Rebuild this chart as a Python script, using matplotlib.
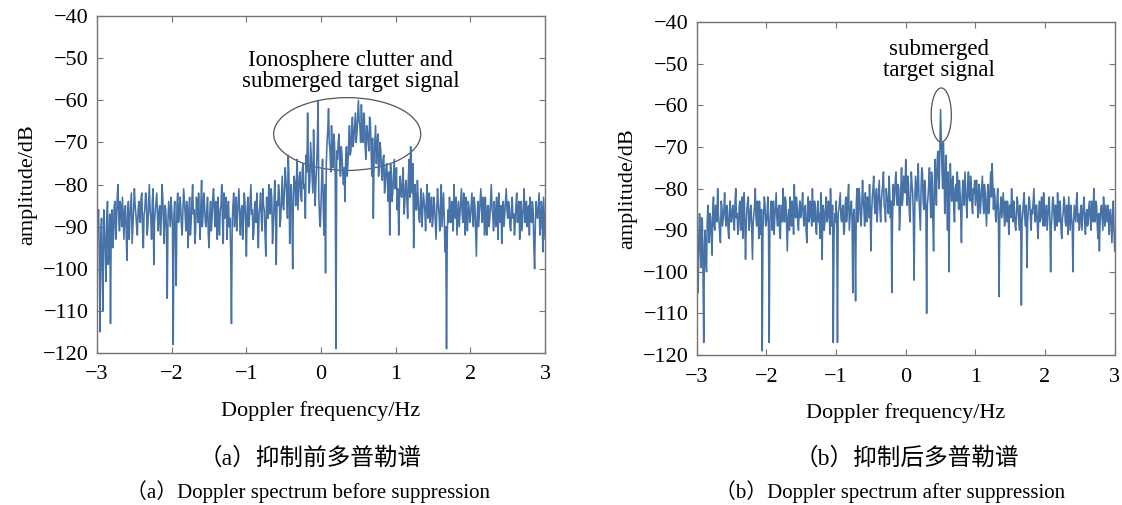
import numpy as np
import matplotlib
matplotlib.use('Agg')
import matplotlib.pyplot as plt
from matplotlib.patches import Ellipse

# spectrum values (dB), one per Doppler bin from -3 Hz to 3 Hz in 0.01 Hz steps
# (each row covers 0.5 Hz)
amp_before = [
    -93, -89, -86, -97, -115, -92, -88, -101, -110, -86, -90, -96, -103, -88, -84, -99, -95, -87, -113, -90, -86, -95, -92, -85, -84,
    -93, -89, -83, -80, -87, -91, -84, -86, -90, -83, -88, -93, -86, -85, -91, -98, -87, -84, -93, -88, -85, -82, -94, -90, -86,
    -81, -85, -87, -90, -92, -86, -84, -88, -89, -83, -82, -91, -95, -87, -86, -82, -83, -92, -90, -85, -80, -86, -88, -93, -84,
    -81, -99, -89, -86, -84, -82, -88, -91, -86, -85, -92, -88, -80, -83, -89, -94, -85, -86, -91, -107, -88, -84, -87, -90, -83,
    -86, -90, -118, -87, -84, -93, -104, -85, -82, -89, -88, -83, -85, -90, -92, -86, -81, -84, -87, -91, -84, -88, -95, -86, -83,
    -92, -89, -84, -80, -87, -86, -94, -91, -83, -84, -89, -82, -88, -93, -85, -79, -90, -87, -82, -85, -89, -90, -86, -83, -92,
    -95, -87, -84, -91, -88, -83, -81, -86, -90, -84, -86, -93, -83, -89, -92, -86, -85, -80, -89, -94, -82, -88, -87, -83, -93,
    -87, -84, -90, -88, -96, -113, -89, -85, -82, -90, -86, -83, -91, -87, -84, -81, -88, -92, -86, -85, -93, -89, -82, -84, -89,
    -97, -86, -83, -90, -88, -84, -80, -87, -86, -93, -91, -85, -84, -89, -82, -88, -95, -87, -85, -82, -88, -91, -81, -85, -86,
    -92, -97, -83, -84, -88, -80, -86, -87, -81, -83, -94, -90, -85, -79, -87, -99, -84, -85, -80, -82, -90, -88, -83, -78, -85,
    -86, -81, -76, -79, -83, -88, -73, -78, -94, -84, -80, -87, -100, -82, -78, -80, -85, -79, -74, -86, -82, -78, -77, -83, -84,
    -76, -75, -81, -80, -88, -73, -77, -63, -75, -82, -79, -70, -74, -78, -82, -67, -77, -85, -80, -76, -70, -60, -83, -88, -90,
    -84, -78, -74, -86, -92, -80, -101, -75, -70, -67, -62, -70, -72, -77, -66, -73, -76, -68, -70, -79, -119, -72, -74, -70, -68,
    -75, -78, -71, -73, -77, -80, -76, -84, -74, -71, -78, -75, -70, -66, -73, -72, -67, -64, -71, -69, -66, -63, -70, -68, -64,
    -60, -65, -66, -70, -61, -68, -70, -63, -64, -71, -74, -66, -67, -70, -72, -64, -65, -72, -78, -69, -88, -74, -70, -66, -75,
    -71, -68, -78, -76, -70, -72, -77, -79, -74, -73, -82, -80, -76, -75, -80, -84, -77, -92, -75, -77, -84, -82, -78, -74, -81,
    -80, -76, -86, -81, -92, -84, -78, -82, -83, -79, -76, -87, -85, -80, -79, -84, -88, -78, -74, -83, -71, -77, -82, -75, -95,
    -84, -80, -86, -86, -79, -83, -88, -89, -84, -81, -90, -87, -82, -84, -86, -91, -84, -80, -88, -86, -82, -89, -85, -83, -90,
    -88, -83, -85, -89, -93, -86, -81, -85, -87, -91, -84, -80, -90, -86, -82, -88, -96, -90, -119, -92, -86, -89, -83, -87, -89,
    -84, -85, -91, -80, -86, -88, -83, -92, -88, -84, -90, -87, -84, -81, -87, -89, -82, -86, -92, -83, -88, -91, -84, -85, -89,
    -88, -85, -82, -87, -90, -83, -85, -91, -97, -88, -84, -90, -87, -84, -81, -86, -89, -83, -86, -92, -83, -88, -92, -85, -85,
    -90, -88, -84, -80, -86, -87, -91, -84, -88, -90, -83, -86, -93, -82, -87, -89, -85, -94, -88, -84, -90, -87, -84, -81, -86,
    -88, -84, -85, -90, -91, -86, -83, -88, -87, -92, -89, -85, -82, -89, -86, -84, -93, -88, -84, -91, -88, -85, -81, -89, -87,
    -84, -90, -86, -85, -92, -83, -88, -89, -84, -86, -95, -100, -89, -84, -87, -88, -85, -82, -92, -90, -84, -86, -96, -83, -88,
    -93,
]

amp_after = [
    -95, -98, -105, -92, -86, -94, -99, -87, -88, -101, -117, -93, -90, -97, -100, -88, -84, -90, -93, -86, -87, -92, -96, -85, -82,
    -89, -90, -84, -85, -88, -80, -86, -88, -91, -93, -83, -84, -89, -87, -85, -81, -87, -89, -84, -85, -90, -92, -86, -83, -88,
    -88, -85, -84, -88, -90, -83, -80, -87, -86, -91, -89, -84, -83, -90, -87, -82, -92, -86, -81, -88, -97, -89, -85, -83, -82,
    -90, -88, -85, -84, -91, -97, -88, -86, -84, -80, -87, -89, -83, -85, -92, -83, -88, -91, -85, -119, -90, -86, -82, -84, -89,
    -88, -86, -82, -90, -117, -88, -85, -83, -90, -86, -83, -91, -87, -84, -81, -87, -89, -85, -84, -90, -92, -84, -86, -88, -80,
    -86, -88, -82, -83, -89, -95, -87, -85, -90, -82, -85, -89, -83, -86, -91, -79, -86, -87, -82, -84, -88, -90, -85, -83, -87,
    -86, -84, -81, -87, -89, -85, -84, -90, -93, -86, -82, -88, -87, -83, -85, -89, -80, -86, -88, -83, -84, -90, -91, -85, -83,
    -88, -86, -92, -81, -87, -97, -84, -85, -90, -88, -84, -82, -88, -87, -83, -84, -91, -80, -86, -89, -84, -117, -92, -86, -88,
    -83, -89, -117, -86, -85, -83, -81, -87, -88, -85, -84, -91, -90, -84, -82, -88, -86, -82, -79, -90, -87, -84, -83, -88, -105,
    -86, -85, -92, -107, -84, -80, -88, -86, -80, -82, -87, -89, -84, -78, -83, -85, -89, -81, -86, -88, -82, -84, -87, -79, -85,
    -95, -86, -82, -80, -77, -84, -86, -82, -80, -88, -84, -81, -78, -85, -88, -83, -81, -79, -76, -84, -85, -88, -80, -82, -83,
    -86, -77, -81, -87, -83, -105, -88, -79, -84, -82, -78, -76, -82, -84, -79, -80, -90, -86, -80, -75, -84, -82, -77, -78, -81,
    -73, -80, -84, -77, -79, -85, -88, -82, -76, -79, -81, -88, -102, -84, -77, -80, -83, -78, -74, -82, -86, -90, -80, -75, -76,
    -83, -85, -78, -79, -86, -110, -84, -82, -79, -75, -82, -87, -76, -78, -88, -95, -80, -73, -78, -84, -74, -71, -77, -80, -70,
    -61, -68, -75, -80, -69, -74, -86, -78, -72, -82, -90, -76, -100, -84, -74, -79, -83, -78, -77, -85, -88, -80, -79, -83, -76,
    -81, -85, -78, -81, -86, -93, -82, -78, -80, -84, -76, -80, -84, -87, -79, -76, -82, -83, -77, -79, -84, -86, -80, -81, -78,
    -84, -81, -78, -84, -87, -79, -80, -86, -83, -80, -77, -83, -86, -79, -81, -85, -89, -82, -79, -86, -84, -80, -76, -82, -74,
    -79, -85, -80, -82, -87, -88, -83, -80, -85, -106, -88, -84, -82, -87, -84, -81, -86, -89, -83, -85, -88, -83, -86, -91, -84,
    -84, -87, -80, -85, -88, -83, -85, -89, -90, -86, -82, -84, -87, -90, -84, -86, -108, -88, -86, -83, -81, -87, -89, -84, -99,
    -88, -85, -82, -83, -87, -90, -85, -86, -83, -80, -86, -88, -84, -84, -89, -92, -86, -83, -88, -87, -82, -85, -89, -81, -86,
    -89, -86, -84, -90, -87, -84, -82, -88, -100, -89, -86, -82, -83, -87, -90, -84, -85, -89, -81, -86, -88, -83, -84, -90, -92,
    -87, -86, -82, -83, -88, -89, -84, -85, -91, -82, -86, -90, -84, -87, -89, -100, -88, -84, -86, -88, -83, -81, -88, -86, -90,
    -89, -85, -84, -90, -87, -84, -82, -88, -91, -86, -85, -89, -88, -84, -83, -87, -90, -83, -86, -88, -80, -85, -88, -83, -84,
    -89, -92, -86, -95, -88, -85, -84, -87, -90, -82, -86, -89, -84, -86, -88, -84, -87, -91, -86, -85, -89, -93, -86, -83, -90,
    -95,
]

xticks = [-3, -2, -1, 0, 1, 2, 3]
yticks = [-120, -110, -100, -90, -80, -70, -60, -50, -40]

cap_cn = ['（a）抑制前多普勒谱', '（b）抑制后多普勒谱']
cap_en = ['（a）Doppler spectrum before suppression', '（b）Doppler spectrum after suppression']

serif = ['Liberation Serif', 'Noto Sans CJK SC']
line_color = '#4672a8'
spine_color = '#7d726e'
fs = 16

fig = plt.figure(figsize=(11.22, 5.05), dpi=100)
ax1 = fig.add_axes([0.0865, 0.301, 0.3993, 0.667])
ax2 = fig.add_axes([0.621, 0.297, 0.3725, 0.659])

for ax, amp in [(ax1, amp_before), (ax2, amp_after)]:
    freq = np.linspace(-3, 3, len(amp))
    ax.plot(freq, amp, color=line_color, linewidth=1.15)
    ax.set_xlim(-3, 3)
    ax.set_ylim(-120, -40)
    ax.set_xticks(xticks)
    ax.set_yticks(yticks)
    ax.set_xticklabels([str(t).replace('-', '\u2212') for t in xticks])
    ax.set_yticklabels([str(t).replace('-', '\u2212') for t in yticks])
    ax.tick_params(direction='in', top=True, right=True, length=4,
                   color=spine_color, labelsize=fs)
    ax.tick_params(axis='x', pad=9)
    ax.tick_params(axis='y', pad=6)
    for lab in ax.get_xticklabels() + ax.get_yticklabels():
        lab.set_family(serif)
    for s in ax.spines.values():
        s.set_color(spine_color)
        s.set_linewidth(1.0)
    ax.set_xlabel('Doppler frequency/Hz', fontsize=fs, family=serif, labelpad=12)
    ax.set_ylabel('amplitude/dB', fontsize=fs, family=serif, labelpad=4)

# annotations
ax1.add_patch(Ellipse((0.35, -68.0), 1.97, 17.3, fill=False, edgecolor='#555555', linewidth=0.9))
ax1.text(0.40, -53.0, 'Ionosphere clutter and\nsubmerged target signal', ha='center', va='center',
         fontsize=16.5, family=serif, linespacing=1.0)
ax2.add_patch(Ellipse((0.51, -62.3), 0.29, 13.0, fill=False, edgecolor='#555555', linewidth=0.9))
ax2.text(0.48, -49.0, 'submerged\ntarget signal', ha='center', va='center',
         fontsize=16.5, family=serif, linespacing=1.0)

# captions
fig.text(310 / 1122, 1 - 458 / 505, cap_cn[0], ha='center', va='center', fontsize=17, family=serif)
fig.text(308 / 1122, 1 - 492 / 505, cap_en[0], ha='center', va='center', fontsize=15, family=serif)
fig.text(907 / 1122, 1 - 458 / 505, cap_cn[1], ha='center', va='center', fontsize=17, family=serif)
fig.text(890 / 1122, 1 - 492 / 505, cap_en[1], ha='center', va='center', fontsize=15, family=serif)

fig.savefig('out.png', dpi=100)
